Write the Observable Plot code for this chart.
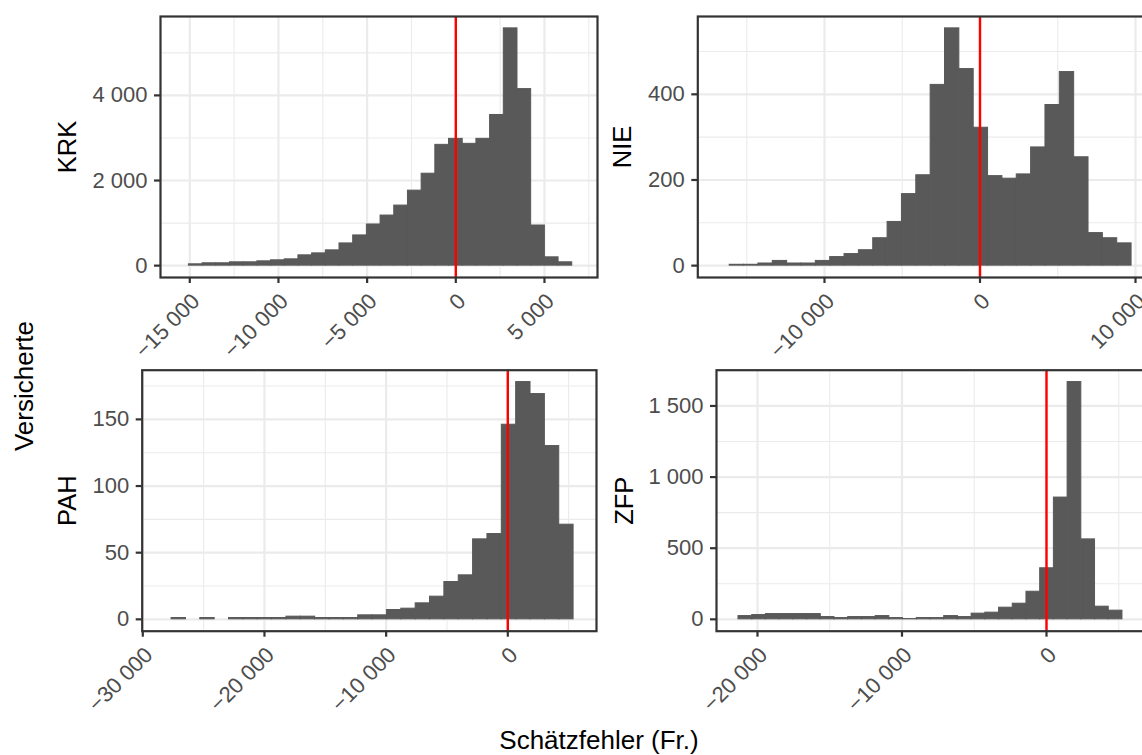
<!DOCTYPE html>
<html>
<head>
<meta charset="utf-8">
<script src="https://cdn.jsdelivr.net/npm/d3@7"></script>
<script src="https://cdn.jsdelivr.net/npm/@observablehq/plot@0.6"></script>
<style>
  html, body { margin: 0; padding: 0; background: #fff; }
  #chart { position: relative; width: 1142px; height: 755px; overflow: hidden; background: #fff;
           font-family: "Liberation Sans", Arial, Helvetica, sans-serif; }
  .panel { position: absolute; }
  .outer-title { position: absolute; color: #000; font-size: 26px; white-space: nowrap; line-height: 1; }
</style>
</head>
<body>
<div id="chart"></div>
<script>
// Histogram counts per group (Schätzfehler in Fr.), regular bins: first bin start + bin width
const groups = ["KRK", "NIE", "PAH", "ZFP"];

const krkStart = -15050, krkWidth = 772;
const krkCounts = [31, 55, 55, 78, 78, 101, 125, 148, 242, 288, 359, 522, 710, 967, 1177, 1411,
                   1762, 2160, 2838, 2979, 2862, 2979, 3540, 5575, 4148, 943, 195, 78];

const nieStart = -16096, nieWidth = 923;
const nieCounts = [2, 2, 5, 11, 5, 5, 11, 20, 27, 36, 64, 102, 167, 211, 422, 554,
                   459, 322, 209, 203, 213, 276, 375, 452, 253, 76, 64, 52];

const pahStart = -27633, pahWidth = 1180;
const pahCounts = [1, 0, 1, 0, 1, 1, 1, 1, 2, 2, 1, 1, 1, 3, 3, 7,
                   8, 12, 17, 28, 33, 60, 64, 146, 178, 169, 130, 71];

const zfpStart = -21315, zfpWidth = 949;
const zfpCounts = [23, 30, 37, 37, 37, 37, 16, 9, 16, 16, 23, 9, 2, 9, 9, 23,
                   16, 40, 47, 82, 110, 194, 359, 856, 1668, 562, 89, 61];

// Tick values (major breaks; minor grid lines sit halfway between)
const krkXTicks = [-15000, -10000, -5000, 0, 5000];
const krkXMinor = [-12500, -7500, -2500, 2500, 7500];
const krkYTicks = [0, 2000, 4000];
const krkYMinor = [1000, 3000, 5000];

const nieXTicks = [-10000, 0, 10000];
const nieXMinor = [-15000, -5000, 5000];
const nieYTicks = [0, 200, 400];
const nieYMinor = [100, 300, 500];

const pahXTicks = [-30000, -20000, -10000, 0];
const pahXMinor = [-25000, -15000, -5000, 5000];
const pahYTicks = [0, 50, 100, 150];
const pahYMinor = [25, 75, 125, 175];

const zfpXTicks = [-20000, -10000, 0];
const zfpXMinor = [-15000, -5000, 5000];
const zfpYTicks = [0, 500, 1000, 1500];
const zfpYMinor = [250, 750, 1250];

const yTitle = "Versicherte";
const xTitle = "Schätzfehler (Fr.)";

// number format with space as thousands separator and a true minus sign
const fmt = d3.formatLocale({decimal: ",", thousands: "\u00a0", grouping: [3], currency: ["", ""], minus: "\u2212"}).format(",d");

function toBins(start, width, counts) {
  return counts.map((n, i) => ({x1: start + i * width, x2: start + (i + 1) * width, n}));
}

const panels = [
  {name: groups[0], bins: toBins(krkStart, krkWidth, krkCounts), xt: krkXTicks, xm: krkXMinor, yt: krkYTicks, ym: krkYMinor,
   box: {left: 0, top: 0, width: 600, height: 340, ml: 160, mr: 3, mt: 16, mb: 63}, xDomain: [-16651, 7990], titleDx: -93},
  {name: groups[1], bins: toBins(nieStart, nieWidth, nieCounts), xt: nieXTicks, xm: nieXMinor, yt: nieYTicks, ym: nieYMinor,
   box: {left: 600, top: 0, width: 600, height: 340, ml: 97.3, mr: 14, mt: 16, mb: 63}, xDomain: [-18148, 13280], titleDx: -75},
  {name: groups[2], bins: toBins(pahStart, pahWidth, pahCounts), xt: pahXTicks, xm: pahXMinor, yt: pahYTicks, ym: pahYMinor,
   box: {left: 0, top: 340, width: 600, height: 415, ml: 141.7, mr: 4, mt: 29.7, mb: 124.3}, xDomain: [-30049, 7290], titleDx: -74},
  {name: groups[3], bins: toBins(zfpStart, zfpWidth, zfpCounts), xt: zfpXTicks, xm: zfpXMinor, yt: zfpYTicks, ym: zfpYMinor,
   box: {left: 600, top: 340, width: 600, height: 415, ml: 116, mr: 14, mt: 29.7, mb: 124.3}, xDomain: [-22837, 9689], titleDx: -92}
];

const chart = document.getElementById("chart");
const ink = "#333333";
const gridColor = "#EBEBEB";
const barColor = "#595959";

for (const p of panels) {
  const maxN = d3.max(p.bins, d => d.n);
  const b = p.box;
  const svg = Plot.plot({
    width: b.width,
    height: b.height,
    marginLeft: b.ml,
    marginRight: b.mr,
    marginTop: b.mt,
    marginBottom: b.mb,
    style: {background: "transparent", overflow: "visible", fontFamily: "Liberation Sans, Arial, Helvetica, sans-serif"},
    x: {domain: p.xDomain},
    y: {domain: [-0.05 * maxN, 1.05 * maxN]},
    marks: [
      Plot.gridX(p.xm, {stroke: gridColor, strokeOpacity: 1, strokeWidth: 1.1}),
      Plot.gridY(p.ym, {stroke: gridColor, strokeOpacity: 1, strokeWidth: 1.1}),
      Plot.gridX(p.xt, {stroke: gridColor, strokeOpacity: 1, strokeWidth: 2.2}),
      Plot.gridY(p.yt, {stroke: gridColor, strokeOpacity: 1, strokeWidth: 2.2}),
      // bars: a hairline outline in the fill colour closes the seams between adjacent bins
      Plot.rectY(p.bins, {x1: "x1", x2: "x2", y1: 0, y2: "n", inset: 0, fill: barColor,
                          stroke: barColor, strokeWidth: 1}),
      Plot.ruleX([0], {stroke: "#FF0000", strokeWidth: 2.4}),
      Plot.frame({stroke: ink, strokeWidth: 2.2}),
      Plot.axisX(p.xt, {anchor: "bottom", tickSize: 6, tickFormat: () => "", stroke: ink, strokeWidth: 2.2, label: null}),
      Plot.axisY(p.yt, {anchor: "left", tickSize: 6, tickFormat: () => "", stroke: ink, strokeWidth: 2.2, label: null}),
      Plot.text(p.xt, {x: d => d, frameAnchor: "bottom", dy: 14, text: d => fmt(d), rotate: -45,
                       textAnchor: "end", lineAnchor: "top", fontSize: 22, fill: "#4D4D4D"}),
      Plot.text(p.yt, {y: d => d, frameAnchor: "left", dx: -13, text: d => fmt(d),
                       textAnchor: "end", lineAnchor: "middle", fontSize: 22, fill: "#4D4D4D"}),
      Plot.text([p.name], {frameAnchor: "left", dx: p.titleDx, rotate: -90, text: d => d,
                           textAnchor: "middle", lineAnchor: "middle", fontSize: 25.5, fill: "#000"})
    ]
  });
  svg.classList.add("panel");
  svg.style.left = b.left + "px";
  svg.style.top = b.top + "px";
  svg.style.maxWidth = "none";
  chart.appendChild(svg);
}

const yt = document.createElement("div");
yt.className = "outer-title";
yt.textContent = yTitle;
yt.style.left = "24px";
yt.style.top = "386px";
yt.style.transform = "translate(-50%, -50%) rotate(-90deg)";
chart.appendChild(yt);

const xt = document.createElement("div");
xt.className = "outer-title";
xt.textContent = xTitle;
xt.style.left = "599px";
xt.style.top = "740px";
xt.style.transform = "translate(-50%, -50%)";
chart.appendChild(xt);
</script>
</body>
</html>
